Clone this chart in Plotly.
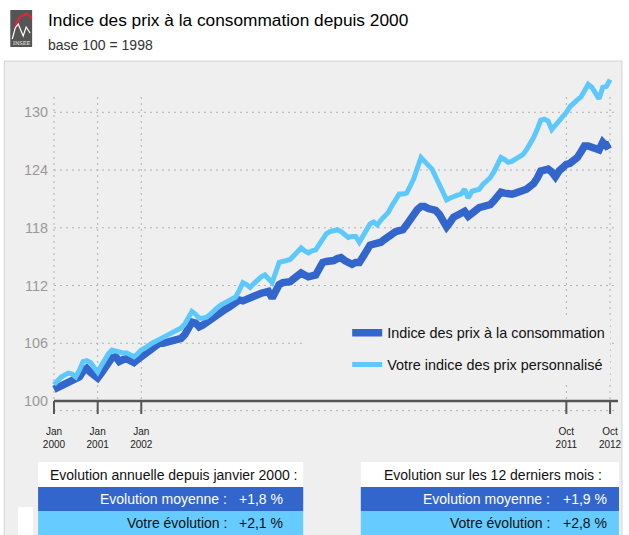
import pandas as pd
import plotly.graph_objects as go

# ---------------- data ----------------
months = list(pd.date_range("2000-01-01", periods=154, freq="MS"))

cpi = [
    101.2, 101.4, 101.7, 101.9, 102.1, 102.2, 102.3, 102.5, 103.1, 103.4, 103.0, 102.7,  # 2000
    102.4, 102.9, 103.5, 104.1, 104.5, 104.6, 104.1, 104.3, 104.4, 104.2, 104.0, 104.3,  # 2001
    104.6, 104.9, 105.3, 105.5, 105.8, 106.0, 106.0, 106.1, 106.1, 106.2, 106.4, 106.5,  # 2002
    106.9, 107.5, 108.2, 108.1, 107.7, 107.9, 108.2, 108.4, 108.7, 108.9, 109.2, 109.5,  # 2003
    109.7, 110.0, 110.3, 110.5, 110.4, 110.6, 110.7, 110.8, 111.0, 111.2, 111.3, 111.4,  # 2004
    110.7, 111.5, 112.1, 112.3, 112.3, 112.4, 112.7, 113.0, 113.3, 113.1, 112.9, 113.0,  # 2005
    113.1, 113.8, 114.4, 114.5, 114.5, 114.6, 114.8, 114.9, 114.6, 114.3, 114.2, 114.4,  # 2006
    114.4, 115.0, 115.7, 116.2, 116.3, 116.4, 116.5, 116.8, 117.1, 117.4, 117.6, 117.7,  # 2007
    117.8, 118.3, 118.9, 119.5, 119.9, 120.2, 120.2, 120.0, 119.9, 119.8, 119.4, 118.8,  # 2008
    118.1, 118.6, 119.1, 119.3, 119.6, 119.7, 119.2, 119.6, 119.8, 120.1, 120.2, 120.3,  # 2009
    120.4, 120.8, 121.3, 121.7, 121.6, 121.5, 121.5, 121.6, 121.7, 121.9, 122.0, 122.3,  # 2010
    122.6, 123.2, 123.9, 124.0, 124.1, 123.8, 123.3, 123.9, 124.4, 124.6, 124.7, 124.9,  # 2011
    125.3, 125.9, 126.5, 126.5, 126.4, 126.2, 126.1, 126.9, 126.5, 126.7,                # 2012
]

perso = [
    101.7, 102.1, 102.5, 102.7, 102.9, 102.8, 102.5, 103.2, 104.1, 104.2, 104.0, 103.5,  # 2000
    103.0, 103.7, 104.4, 104.9, 105.3, 105.2, 105.0, 105.0, 105.0, 104.8, 104.6, 104.9,  # 2001
    105.3, 105.5, 105.8, 106.0, 106.2, 106.4, 106.5, 106.7, 107.0, 107.1, 107.3, 107.6,  # 2002
    108.0, 108.6, 109.3, 109.0, 108.6, 108.6, 108.7, 109.0, 109.4, 109.7, 110.0, 110.2,  # 2003
    110.4, 110.6, 110.8, 111.5, 112.3, 112.1, 111.8, 112.2, 112.6, 112.9, 113.1, 112.7,  # 2004
    112.3, 113.4, 114.4, 114.5, 114.6, 114.7, 115.1, 115.5, 115.9, 115.6, 115.4, 115.6,  # 2005
    115.7, 116.3, 116.9, 117.4, 117.6, 117.7, 117.8, 117.6, 117.3, 117.0, 117.1, 117.1,  # 2006
    116.5, 117.2, 117.9, 118.4, 118.6, 118.3, 118.8, 119.3, 119.6, 120.3, 120.9, 121.5,  # 2007
    121.5, 121.6, 122.3, 123.1, 124.2, 125.3, 124.9, 124.5, 124.1, 123.3, 122.5, 121.7,  # 2008
    120.9, 121.1, 121.3, 121.4, 121.5, 122.0, 121.1, 121.8, 121.9, 122.0, 122.5, 122.8,  # 2009
    123.2, 123.8, 124.5, 125.3, 125.1, 124.8, 124.9, 125.1, 125.3, 125.6, 126.1, 126.7,  # 2010
    127.4, 128.3, 129.2, 129.3, 129.1, 128.2, 128.6, 129.1, 129.5, 130.0, 130.6, 131.0,  # 2011
    131.3, 131.6, 132.3, 132.9, 132.6, 132.0, 131.4, 132.6, 132.7, 133.4,                # 2012
]

series_names = ["Indice des prix à la consommation", "Votre indice des prix personnalisé"]
y_ticks = [100, 106, 112, 118, 124, 130]
x_tick_dates = ["2000-01-01", "2001-01-01", "2002-01-01", "2011-10-01", "2012-10-01"]
x_tick_labels = ["Jan<br>2000", "Jan<br>2001", "Jan<br>2002", "Oct<br>2011", "Oct<br>2012"]

title_text = "Indice des prix à la consommation depuis 2000"
subtitle_text = "base 100 = 1998"
table_titles = ["Evolution annuelle depuis janvier 2000 :", "Evolution sur les 12 derniers mois :"]
row_labels = ["Evolution moyenne :", "Votre évolution :"]
left_values = ["+1,8 %", "+2,1 %"]
right_values = ["+1,9 %", "+2,8 %"]

# ---------------- styling / geometry ----------------
FONT = "Liberation Sans, Arial, sans-serif"
DARK = "#3366cc"
LIGHT_LINE = "#5cc8fc"
LIGHT_ROW = "#66ccff"
PANEL = "#efefef"
GRID = "#b0b0b0"

WIDTH, HEIGHT = 629, 535
L, R, T, B = 50, 622, 70, 414          # plot-area edges in pixels
PW, PH = R - L, B - T

def px(x):
    return (x - L) / PW

def py(y):
    return (B - y) / PH

# axis scales (pixels per day / per index unit)
t0 = pd.Timestamp(x_tick_dates[0])
t_last = pd.Timestamp(x_tick_dates[-1])
ppd = 560 / (t_last - t0).days
x_range = [t0 - pd.Timedelta(days=(54 - L) / ppd), t0 + pd.Timedelta(days=(R - 54) / ppd)]
ppu = 9.623
y_range = [100 - (B - 401) / ppu, 100 + (401 - T) / ppu]
grid_top = 100 + (401 - 95) / ppu
grid_bot = 100 - (411 - 401) / ppu

fig = go.Figure()
fig.add_trace(go.Scatter(x=months, y=cpi, mode="lines", name=series_names[0],
                         legendgroup="a",
                         line=dict(color=DARK, width=7.5), hoverinfo="skip"))
fig.add_trace(go.Scatter(x=months, y=perso, mode="lines", name=series_names[1],
                         legendgroup="b",
                         line=dict(color=LIGHT_LINE, width=5), hoverinfo="skip"))

shapes = []
# panel
shapes.append(dict(type="rect", xref="paper", yref="paper", x0=px(4), x1=px(626), y0=py(560), y1=py(61),
                   fillcolor=PANEL, line=dict(color="#d4d4d4", width=1), layer="below"))
# horizontal grid
for v in y_ticks[1:]:
    shapes.append(dict(type="line", xref="x", yref="y", x0=t0, x1=x_range[1], y0=v, y1=v,
                       line=dict(color=GRID, width=1, dash="2px,4px"), layer="below"))
shapes.append(dict(type="line", xref="x", yref="y", x0=t0, x1=x_range[1], y0=99, y1=99,
                   line=dict(color=GRID, width=1, dash="2px,4px"), layer="below"))
# vertical grid
for d in x_tick_dates:
    shapes.append(dict(type="line", xref="x", yref="y", x0=d, x1=d, y0=grid_bot, y1=grid_top,
                       line=dict(color=GRID, width=1, dash="2px,4px"), layer="below"))
# axis baseline + ticks
shapes.append(dict(type="line", xref="x", yref="y", x0=t0, x1=x_range[1], y0=100, y1=100,
                   line=dict(color="#555555", width=2.5), layer="above"))
for d in x_tick_dates:
    shapes.append(dict(type="line", xref="x", yref="y", x0=d, x1=d, y0=100, y1=y_range[0],
                       line=dict(color="#555555", width=2), layer="above"))

# logo
shapes.append(dict(type="rect", xref="paper", yref="paper", x0=px(10), x1=px(32), y0=py(47), y1=py(10),
                   fillcolor="#555555", line=dict(width=0)))

def ppath(points):
    return "M " + " L ".join(f"{px(a):.5f},{py(b):.5f}" for a, b in points)

shapes.append(dict(type="path", xref="paper", yref="paper",
                   path=ppath([(15, 28), (17, 21), (21, 16), (26, 14), (30, 16), (31, 19)]),
                   line=dict(color="#d8283c", width=2.5)))
shapes.append(dict(type="path", xref="paper", yref="paper",
                   path=ppath([(12, 39), (15, 28), (18, 24), (23, 36), (26, 27), (30, 33)]),
                   line=dict(color="#ffffff", width=1.2)))

# bottom-left white box
shapes.append(dict(type="rect", xref="paper", yref="paper", x0=px(18), x1=px(33), y0=py(560), y1=py(507),
                   fillcolor="#ffffff", line=dict(width=0)))

annotations = []
annotations.append(dict(text="INSEE", xref="paper", yref="paper", x=px(21), y=py(43), showarrow=False,
                        font=dict(family="DejaVu Serif", size=5, color="#ffffff"),
                        xanchor="center", yanchor="middle"))
annotations.append(dict(text=title_text, xref="paper", yref="paper", x=px(46), y=py(20), showarrow=False,
                        font=dict(family=FONT, size=17.3, color="#000000"), xanchor="left", yanchor="middle"))
annotations.append(dict(text=subtitle_text, xref="paper", yref="paper", x=px(46), y=py(45), showarrow=False,
                        font=dict(family=FONT, size=14, color="#333333"), xanchor="left", yanchor="middle"))

# tables
tables = [
    (38, 305, 230, 287, table_titles[0], left_values),
    (363, 623, 556, 613, table_titles[1], right_values),
]
for x0, x1, xlab, xval, head, vals in tables:
    shapes.append(dict(type="rect", xref="paper", yref="paper", x0=px(x0), x1=px(x1), y0=py(487), y1=py(462),
                       fillcolor="#ffffff", line=dict(width=0)))
    shapes.append(dict(type="rect", xref="paper", yref="paper", x0=px(x0), x1=px(x1), y0=py(511), y1=py(487),
                       fillcolor=DARK, line=dict(width=0)))
    shapes.append(dict(type="rect", xref="paper", yref="paper", x0=px(x0), x1=px(x1), y0=py(560), y1=py(511),
                       fillcolor=LIGHT_ROW, line=dict(width=0)))
    annotations.append(dict(text=head, xref="paper", yref="paper", x=px((x0 + x1) / 2 + 3), y=py(475),
                            showarrow=False, font=dict(family=FONT, size=14, color="#111111"),
                            xanchor="center", yanchor="middle"))
    for i, (lab, val) in enumerate(zip(row_labels, vals)):
        col = "#ffffff" if i == 0 else "#111111"
        yc = 499 if i == 0 else 523
        annotations.append(dict(text=lab, xref="paper", yref="paper", x=px(xlab), y=py(yc), showarrow=False,
                                font=dict(family=FONT, size=14, color=col), xanchor="right", yanchor="middle"))
        annotations.append(dict(text=val, xref="paper", yref="paper", x=px(xval), y=py(yc), showarrow=False,
                                font=dict(family=FONT, size=14, color=col), xanchor="right", yanchor="middle"))

fig.update_layout(
    width=WIDTH, height=HEIGHT, autosize=False,
    margin=dict(l=L, r=WIDTH - R, t=T, b=HEIGHT - B, pad=0),
    paper_bgcolor="#ffffff", plot_bgcolor="rgba(0,0,0,0)",
    shapes=shapes, annotations=annotations,
    hovermode=False,
    showlegend=True,
    legend=dict(x=px(307), y=py(317), xanchor="left", yanchor="top",
                bgcolor=PANEL, borderwidth=0, indentation=42,
                traceorder="grouped", tracegroupgap=10, itemwidth=30,
                font=dict(family=FONT, size=14.4, color="#111111")),
    xaxis=dict(type="date", range=x_range, tickvals=x_tick_dates, ticktext=x_tick_labels,
               showgrid=False, zeroline=False, showline=False, ticks="",
               tickfont=dict(family=FONT, size=10, color="#222222"), ticklabelstandoff=10),
    yaxis=dict(range=y_range, tickvals=y_ticks, ticktext=[str(v) for v in y_ticks],
               showgrid=False, zeroline=False, showline=False, ticks="",
               tickfont=dict(family=FONT, size=14.4, color="#999999"), ticklabelstandoff=1),
)

fig.write_html("out.html", config={"displayModeBar": False},
               post_script="document.body.style.margin='0px';document.body.style.overflow='hidden';")
